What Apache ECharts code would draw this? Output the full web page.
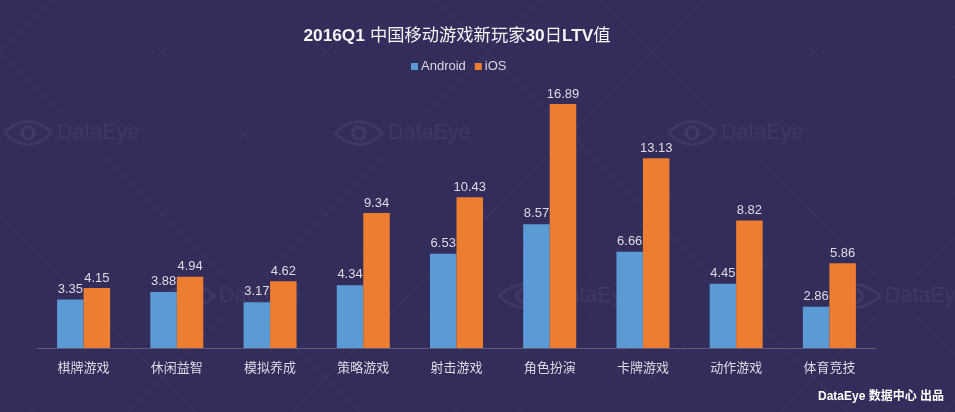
<!DOCTYPE html>
<html>
<head>
<meta charset="utf-8">
<style>html,body{margin:0;padding:0;background:#332d5b}#main{width:955px;height:412px}</style>
<script src="https://cdn.jsdelivr.net/npm/echarts@6/dist/echarts.min.js"></script>
</head>
<body>
<div id="main"></div>
<script>
var categories = ['棋牌游戏', '休闲益智', '模拟养成', '策略游戏', '射击游戏', '角色扮演', '卡牌游戏', '动作游戏', '体育竞技'];
var androidValues = [3.35, 3.88, 3.17, 4.34, 6.53, 8.57, 6.66, 4.45, 2.86];
var iosValues = [4.15, 4.94, 4.62, 9.34, 10.43, 16.89, 13.13, 8.82, 5.86];
var logoRows = [[4, 133], [335, 133], [668, 133], [166, 296], [499, 296], [832, 296]];

var bg = '#332d5b';
var markColor = '#3e3865';
var lineColor = '#3c3661';
var font = '"Liberation Sans","Noto Sans CJK SC",sans-serif';

// background watermark: diamond lattice, broken around each logo
var graphics = [];
for (var k = -3; k < 9; k++) {
    var x0 = 163 * k * 2 - 52;
    graphics.push({ type: 'line', silent: true, z: -10, shape: { x1: x0, y1: 0, x2: x0 + 412, y2: 412 }, style: { stroke: lineColor, lineWidth: 1 } });
    var x1 = 163 * k * 2 + 52;
    graphics.push({ type: 'line', silent: true, z: -10, shape: { x1: x1, y1: 0, x2: x1 - 412, y2: 412 }, style: { stroke: lineColor, lineWidth: 1 } });
    var x2 = 163 * k * 2 + 110;
    graphics.push({ type: 'line', silent: true, z: -10, shape: { x1: x2, y1: 0, x2: x2 + 412, y2: 412 }, style: { stroke: lineColor, lineWidth: 1 } });
    var x3 = 163 * k * 2 + 214;
    graphics.push({ type: 'line', silent: true, z: -10, shape: { x1: x3, y1: 0, x2: x3 - 412, y2: 412 }, style: { stroke: lineColor, lineWidth: 1 } });
}
logoRows.forEach(function (p) {
    graphics.push({ type: 'rect', silent: true, z: -9, shape: { x: p[0] - 12, y: p[1] - 20, width: 164, height: 40 }, style: { fill: bg } });
    graphics.push({ type: 'bezierCurve', silent: true, z: -8, shape: { x1: p[0], y1: p[1], cpx1: p[0] + 24, cpy1: p[1] - 23, x2: p[0] + 48, y2: p[1] }, style: { fill: 'none', stroke: markColor, lineWidth: 3 } });
    graphics.push({ type: 'bezierCurve', silent: true, z: -8, shape: { x1: p[0], y1: p[1], cpx1: p[0] + 24, cpy1: p[1] + 23, x2: p[0] + 48, y2: p[1] }, style: { fill: 'none', stroke: markColor, lineWidth: 3 } });
    graphics.push({ type: 'circle', silent: true, z: -8, shape: { cx: p[0] + 24, cy: p[1], r: 6 }, style: { fill: 'none', stroke: markColor, lineWidth: 4 } });
    graphics.push({ type: 'text', silent: true, z: -8, style: { x: p[0] + 53, y: p[1], text: 'DataEye', fill: markColor, font: '21.5px ' + font, verticalAlign: 'middle' } });
});
graphics.push({ type: 'text', left: 818, top: 391, z: 5, style: { text: 'DataEye 数据中心 出品', fill: '#ffffff', font: 'bold 12px ' + font } });

var chart = echarts.init(document.getElementById('main'));
var option = {
    backgroundColor: bg,
    animation: false,
    title: {
        text: '{b|2016Q1} {n|中国移动游戏新玩家}{b|30}{n|日}{b|LTV}{n|值}',
        left: 452,
        top: 22,
        textAlign: 'center',
        textStyle: {
            rich: {
                b: { fontSize: 17.3, fontWeight: 'bold', color: '#f4f4f6', fontFamily: font },
                n: { fontSize: 17.3, fontWeight: 'normal', color: '#f4f4f6', fontFamily: font }
            }
        }
    },
    legend: {
        top: 55,
        left: 406,
        icon: 'rect',
        itemWidth: 7,
        itemHeight: 7,
        itemGap: 9,
        itemStyle: { borderWidth: 0 },
        textStyle: { color: '#d9d9e0', fontSize: 13, fontFamily: font, padding: [0, 0, 0, -2] }
    },
    grid: { left: 37, right: 79, top: 88, bottom: 64 },
    xAxis: {
        type: 'category',
        data: categories,
        axisTick: { show: false },
        axisLine: { lineStyle: { color: '#5f5b78', width: 1 } },
        axisLabel: { color: '#dcdce2', fontSize: 13, margin: 14, fontFamily: font }
    },
    yAxis: { type: 'value', min: 0, max: 18, show: false },
    series: [
        {
            name: 'Android',
            type: 'bar',
            data: androidValues,
            barWidth: 26.5,
            barGap: 0,
            itemStyle: { color: '#5b9bd5' },
            label: { show: true, position: 'top', distance: 4, color: '#dcdce2', fontSize: 13, fontFamily: font }
        },
        {
            name: 'iOS',
            type: 'bar',
            data: iosValues,
            barWidth: 26.5,
            itemStyle: { color: '#ed7d31' },
            label: { show: true, position: 'top', distance: 3.5, color: '#dcdce2', fontSize: 13, fontFamily: font }
        }
    ],
    graphic: { elements: graphics }
};
option && chart.setOption(option);
</script>
</body>
</html>
